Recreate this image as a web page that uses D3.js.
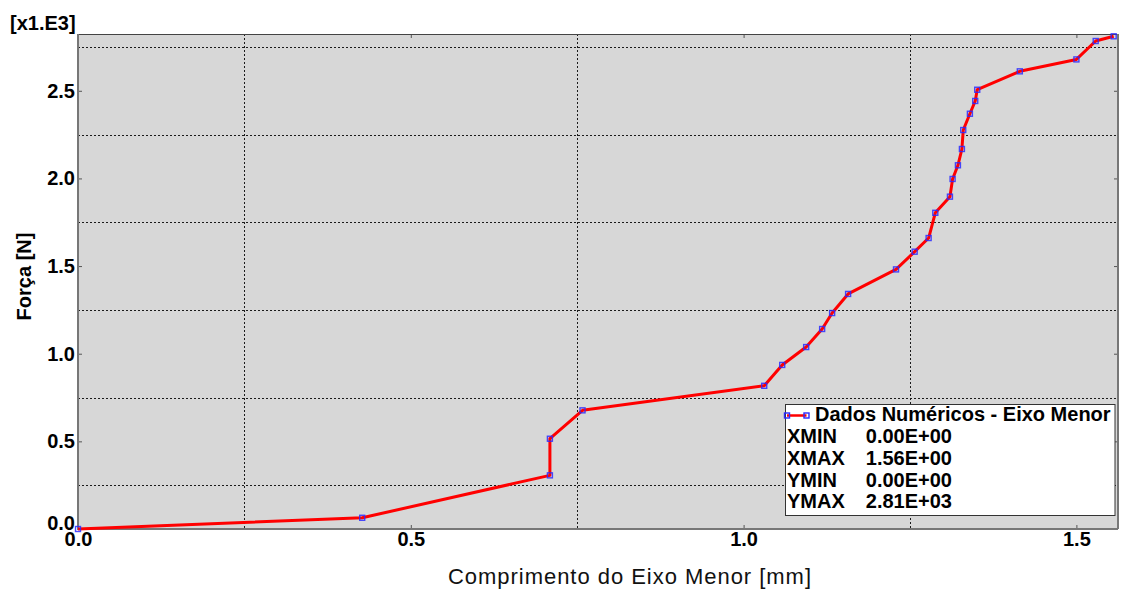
<!DOCTYPE html>
<html>
<head>
<meta charset="utf-8">
<script src="https://cdn.jsdelivr.net/npm/d3@7"></script>
<style>
  html, body { margin: 0; padding: 0; background: #ffffff; }
  svg { display: block; font-family: "Liberation Sans", Arial, sans-serif; }
</style>
</head>
<body>
<svg id="chart" width="1121" height="593"></svg>
<script>
// Ensaio: força versus comprimento do eixo menor
const lengthMm = [0, 0.427, 0.709, 0.709, 0.758, 1.031, 1.058, 1.094, 1.118, 1.133, 1.157,
  1.229, 1.257, 1.278, 1.288, 1.310, 1.314, 1.322, 1.328, 1.330, 1.340, 1.348, 1.351,
  1.415, 1.500, 1.529, 1.556];
const forceN = [0, 64, 306, 515, 677, 817, 936, 1038, 1141, 1232, 1341,
  1481, 1582, 1660, 1804, 1896, 1997, 2075, 2168, 2276, 2369, 2442, 2506,
  2611, 2679, 2784, 2811];

const xTickValues = [0, 0.5, 1.0, 1.5];
const yTickValues = [0, 500, 1000, 1500, 2000, 2500];
const xGridValues = [0.25, 0.75, 1.25];
const yGridValues = [250, 750, 1250, 1750, 2250, 2750];

const seriesName = "Dados Numéricos - Eixo Menor";
const xTitle = "Comprimento do Eixo Menor [mm]";
const yTitle = "Força [N]";
const yMultiplier = "[x1.E3]";

const svg = d3.select("#chart");
const plotL = 78, plotR = 1118, plotT = 34, plotB = 529;

const x = d3.scaleLinear().domain([0, 1.5625]).range([plotL, plotR]);
const y = d3.scaleLinear().domain([0, 2824]).range([plotB, plotT]);

// plot background
svg.append("rect")
  .attr("x", plotL).attr("y", plotT)
  .attr("width", plotR - plotL).attr("height", plotB - plotT)
  .attr("fill", "#d7d7d7");

// dotted grid
const grid = svg.append("g").attr("stroke", "#1a1a1a").attr("stroke-width", 1)
  .attr("stroke-dasharray", "2,2");
grid.selectAll("line.gx").data(xGridValues).join("line")
  .attr("x1", d => Math.round(x(d)) + 0.5).attr("x2", d => Math.round(x(d)) + 0.5)
  .attr("y1", plotT).attr("y2", plotB);
grid.selectAll("line.gy").data(yGridValues).join("line")
  .attr("y1", d => Math.round(y(d)) + 0.5).attr("y2", d => Math.round(y(d)) + 0.5)
  .attr("x1", plotL).attr("x2", plotR);

// axes with inward ticks
const fmtX = d3.format(".1f");
const fmtY = d => (d / 1000).toFixed(1);

function styleAxis(g) {
  g.select(".domain").remove();
  g.selectAll(".tick line").attr("stroke", "#555").attr("stroke-width", 1);
  g.selectAll(".tick text")
    .attr("fill", "#000")
    .attr("font-size", 20)
    .attr("font-weight", "bold")
    .attr("font-family", "Liberation Sans, Arial, sans-serif");
}

svg.append("g").attr("transform", `translate(0,${plotB})`)
  .call(d3.axisBottom(x).tickValues(xTickValues).tickFormat(fmtX).tickSize(-4).tickPadding(3))
  .call(styleAxis);

const yAxisG = svg.append("g").attr("transform", `translate(${plotL},0)`)
  .call(d3.axisLeft(y).tickValues(yTickValues).tickFormat(fmtY).tickSize(-4).tickPadding(3))
  .call(styleAxis);
yAxisG.selectAll(".tick text").filter(d => d === 0).attr("dy", "0em");

// mirrored ticks on top and right
svg.append("g").attr("transform", `translate(0,${plotT})`)
  .call(d3.axisTop(x).tickValues(xTickValues).tickFormat("").tickSize(-4))
  .call(styleAxis);
svg.append("g").attr("transform", `translate(${plotR},0)`)
  .call(d3.axisRight(y).tickValues(yTickValues).tickFormat("").tickSize(-4))
  .call(styleAxis);

// frame
svg.append("line").attr("x1", plotL).attr("x2", plotR).attr("y1", plotT + 0.5).attr("y2", plotT + 0.5)
  .attr("stroke", "#444").attr("stroke-width", 1.2);
svg.append("line").attr("x1", plotR).attr("x2", plotR).attr("y1", plotT).attr("y2", plotB)
  .attr("stroke", "#777").attr("stroke-width", 2);
svg.append("line").attr("x1", plotL).attr("x2", plotL).attr("y1", plotT).attr("y2", plotB + 1)
  .attr("stroke", "#777").attr("stroke-width", 2);
svg.append("line").attr("x1", plotL).attr("x2", plotR).attr("y1", plotB).attr("y2", plotB)
  .attr("stroke", "#777").attr("stroke-width", 2);

// series line and markers
const pts = lengthMm.map((v, i) => [v, forceN[i]]);
const lineGen = d3.line().x(d => x(d[0])).y(d => y(d[1]));
svg.append("path").datum(pts)
  .attr("d", lineGen)
  .attr("fill", "none")
  .attr("stroke", "#ff0000")
  .attr("stroke-width", 3)
  .attr("stroke-linejoin", "round");

svg.append("g").selectAll("rect").data(pts).join("rect")
  .attr("x", d => x(d[0]) - 2.5).attr("y", d => y(d[1]) - 2.5)
  .attr("width", 5).attr("height", 5)
  .attr("fill", "none")
  .attr("stroke", "#2a2aff")
  .attr("stroke-opacity", 0.85)
  .attr("stroke-width", 1.4);

// titles
svg.append("text")
  .attr("x", 448).attr("y", 584)
  .attr("font-size", 22)
  .attr("textLength", 363).attr("lengthAdjust", "spacing")
  .attr("fill", "#111")
  .text(xTitle);

svg.append("text")
  .attr("transform", "translate(30.5,276.5) rotate(-90)")
  .attr("text-anchor", "middle")
  .attr("font-size", 20).attr("font-weight", "bold")
  .attr("fill", "#000")
  .text(yTitle);

svg.append("text")
  .attr("x", 10).attr("y", 29.5)
  .attr("font-size", 20).attr("font-weight", "bold")
  .attr("fill", "#000")
  .text(yMultiplier);

// legend with data extents
function fmtE(v) {
  const [m, e] = v.toExponential(2).split("e");
  const ev = +e;
  return m + "E" + (ev < 0 ? "-" : "+") + String(Math.abs(ev)).padStart(2, "0");
}
const statLabels = ["XMIN", "XMAX", "YMIN", "YMAX"];
const statValues = [d3.min(lengthMm), d3.max(lengthMm), d3.min(forceN), d3.max(forceN)];

const lg = svg.append("g");
lg.append("rect")
  .attr("x", 785.5).attr("y", 404.5).attr("width", 329.5).attr("height", 111)
  .attr("fill", "#ffffff").attr("stroke", "#333").attr("stroke-width", 1);
lg.append("line").attr("x1", 787).attr("x2", 806.5).attr("y1", 415.5).attr("y2", 415.5)
  .attr("stroke", "#ff0000").attr("stroke-width", 2.5);
lg.selectAll("rect.m").data([787, 806.5]).join("rect")
  .attr("x", d => d - 2.5).attr("y", 413).attr("width", 5).attr("height", 5)
  .attr("fill", "none").attr("stroke", "#2a2aff").attr("stroke-width", 1.4);
lg.append("text").attr("x", 815).attr("y", 421)
  .attr("font-size", 20).attr("font-weight", "bold").attr("fill", "#000")
  .text(seriesName);
const rows = lg.selectAll("g.row").data(statLabels).join("g")
  .attr("transform", (d, i) => `translate(0,${443.3 + i * 21.7})`);
rows.append("text").attr("x", 787).attr("y", 0)
  .attr("font-size", 20).attr("font-weight", "bold").attr("fill", "#000")
  .text(d => d);
rows.append("text").attr("x", 952).attr("y", 0).attr("text-anchor", "end")
  .attr("font-size", 20).attr("font-weight", "bold").attr("fill", "#000")
  .text((d, i) => fmtE(statValues[i]));
</script>
</body>
</html>
